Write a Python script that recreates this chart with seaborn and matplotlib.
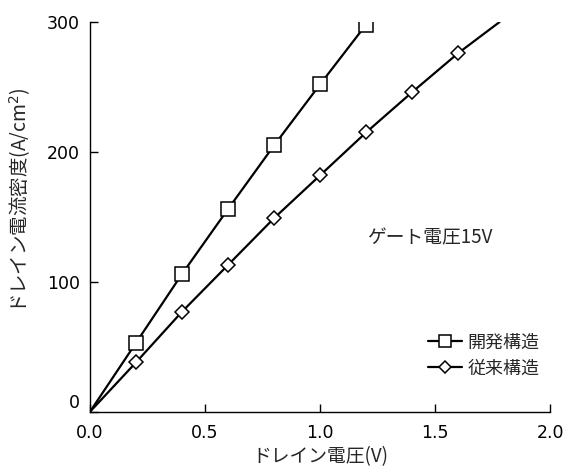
import matplotlib
matplotlib.use("Agg")
import matplotlib.pyplot as plt
import numpy as np
import pandas as pd
import seaborn as sns

# 開発構造 (squares) - line starts at origin
dev_v = [0.0, 0.2, 0.4, 0.6, 0.8, 1.0, 1.2]
dev_j = [0, 53, 106, 156, 205, 252, 298]

# 従来構造 (diamonds) - line starts at origin, runs on past last marker
conv_v = [0.0, 0.2, 0.4, 0.6, 0.8, 1.0, 1.2, 1.4, 1.6, 1.78]
conv_j = [0, 38, 77, 113, 149, 182, 215, 246, 276, 300]

x_ticks = [0.0, 0.5, 1.0, 1.5, 2.0]
x_tick_labels = ["0.0", "0.5", "1.0", "1.5", "2.0"]
y_ticks = [0, 100, 200, 300]

sns.set_style("ticks")
plt.rcParams['font.family'] = ['Noto Sans CJK JP', 'DejaVu Sans']

fig = plt.figure(figsize=(5.69, 4.68), dpi=100)
ax = fig.add_axes([0.158, 0.12, 0.809, 0.833])

df_dev = pd.DataFrame({"v": dev_v, "j": dev_j})
df_conv = pd.DataFrame({"v": conv_v, "j": conv_j})

sns.lineplot(data=df_dev, x="v", y="j", ax=ax, color="black", lw=1.6,
             marker="s", markersize=9.5, markerfacecolor="white",
             markeredgecolor="black", markeredgewidth=1.1,
             markevery=list(range(1, len(dev_v))), label="開発構造")
sns.lineplot(data=df_conv, x="v", y="j", ax=ax, color="black", lw=1.6,
             marker="D", markersize=7, markerfacecolor="white",
             markeredgecolor="black", markeredgewidth=1.1,
             markevery=list(range(1, len(conv_v) - 1)), label="従来構造")

ax.set_xlim(0, 2.0)
ax.set_ylim(0, 300)
ax.set_xticks(x_ticks)
ax.set_xticklabels(x_tick_labels)
ax.set_yticks(y_ticks)
ax.tick_params(direction="in", length=6, width=1, labelsize=12.5, colors="black")
ax.tick_params(axis="x", pad=9)
ax.tick_params(axis="y", pad=7)
for lab in ax.get_xticklabels() + ax.get_yticklabels():
    lab.set_family("DejaVu Sans")
ax.get_yticklabels()[0].set_va("bottom")
sns.despine(ax=ax)
for s in ["left", "bottom"]:
    ax.spines[s].set_linewidth(1.0)
    ax.spines[s].set_color("black")

ax.set_xlabel("ドレイン電圧(V)", fontsize=13.5, labelpad=3)
ax.set_ylabel("ドレイン電流密度(A/cm$^2$)", fontsize=14)
ax.yaxis.set_label_coords(-0.124, 0.544)

ax.text(1.478, 134, "ゲート電圧15V", fontsize=13.5, ha="center", va="center")

leg = ax.legend(loc="lower right", bbox_to_anchor=(1.0, 0.06), frameon=False,
                fontsize=13, handlelength=1.9, handletextpad=0.3, labelspacing=0.45,
                borderaxespad=0.2)
leg.legend_handles[0].set_markersize(8)
leg.legend_handles[1].set_markersize(6.5)

fig.savefig("out.png", dpi=100)
